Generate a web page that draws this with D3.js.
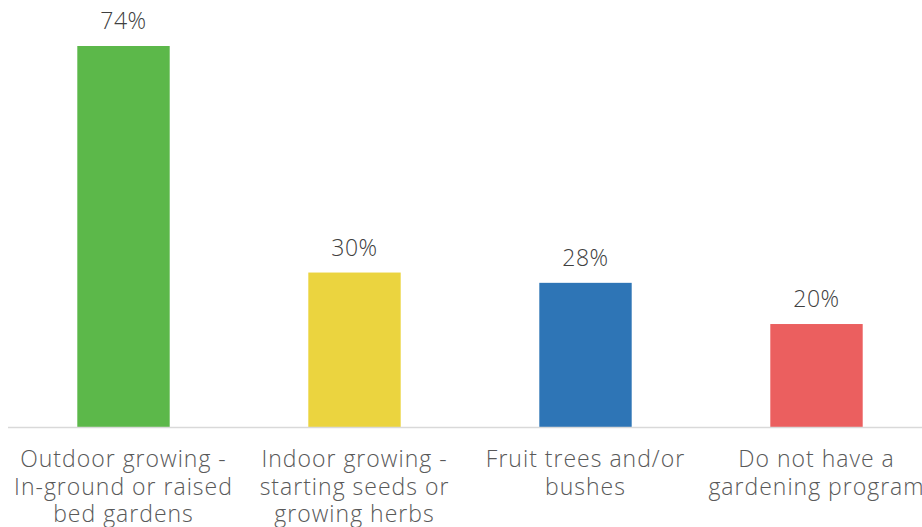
<!DOCTYPE html>
<html>
<head>
<meta charset="utf-8">
<script src="https://cdn.jsdelivr.net/npm/d3@7"></script>
<style>
  html, body { margin: 0; padding: 0; background: #fff; }
  svg { display: block; }
  text { font-family: "Open Sans", "Noto Sans", sans-serif; font-weight: 300; }
</style>
</head>
<body>
<svg id="chart" width="922" height="527"></svg>
<script>
const categories = [
  ["Outdoor growing -", "In-ground or raised", "bed gardens"],
  ["Indoor growing -", "starting seeds or", "growing herbs"],
  ["Fruit trees and/or", "bushes"],
  ["Do not have a", "gardening program"]
];
const values = [74, 30, 28, 20];
const colors = ["#5cb84a", "#ebd43f", "#2e75b6", "#eb5f5f"];

const svg = d3.select("#chart");
const baseline = 427;

const x = d3.scaleBand()
  .domain(d3.range(categories.length))
  .range([8, 932])
  .paddingInner(0.6)
  .paddingOuter(0.3);

const y = d3.scaleLinear()
  .domain([0, 74])
  .range([baseline, 46]);

// bars
svg.selectAll("rect.bar")
  .data(values)
  .join("rect")
  .attr("class", "bar")
  .attr("x", (d, i) => x(i))
  .attr("width", x.bandwidth())
  .attr("y", d => y(d))
  .attr("height", d => baseline - y(d))
  .attr("fill", (d, i) => colors[i]);

// value labels
svg.selectAll("text.value")
  .data(values)
  .join("text")
  .attr("class", "value")
  .attr("x", (d, i) => x(i) + x.bandwidth() / 2)
  .attr("y", d => y(d) - 17)
  .attr("text-anchor", "middle")
  .attr("font-size", 23)
  .attr("letter-spacing", 0.5)
  .attr("fill", "#404040")
  .text(d => d + "%");

// category axis line
svg.append("line")
  .attr("x1", 8).attr("x2", 922)
  .attr("y1", baseline + 0.5).attr("y2", baseline + 0.5)
  .attr("stroke", "#d9d9d9")
  .attr("stroke-width", 1.5);

// category labels
const labels = svg.selectAll("text.cat")
  .data(categories)
  .join("text")
  .attr("class", "cat")
  .attr("text-anchor", "middle")
  .attr("font-size", 23)
  .attr("letter-spacing", 1)
  .attr("fill", "#595959");

labels.selectAll("tspan")
  .data((d, i) => d.map(line => ({ line, i })))
  .join("tspan")
  .attr("x", d => x(d.i) + x.bandwidth() / 2)
  .attr("y", (d, j) => 467 + j * 27.5)
  .text(d => d.line);
</script>
</body>
</html>
